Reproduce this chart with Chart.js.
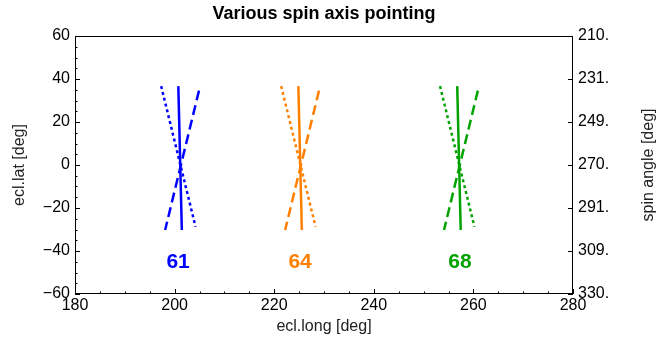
<!DOCTYPE html>
<html>
<head>
<meta charset="utf-8">
<script src="https://cdn.jsdelivr.net/npm/chart.js@4.4.1/dist/chart.umd.min.js"></script>
<style>
html,body{margin:0;padding:0;background:#fff}
#wrap{width:668px;height:345px;position:relative}
</style>
</head>
<body>
<div id="wrap"><canvas id="cv"></canvas></div>
<script>
// ═══ DATA ═══
var spinIds=['61','64','68'];
var colors=['#0000ff','#ff8000','#00a300'];
// latitude of the two ends of each line style
var solidLat=[36.7,-30.2];
var dottedLat=[36.7,-28.7];
var dashedLat=[34.6,-30.2];
// longitude of the two ends, one pair per spin id
var solidLong=[[200.75,201.45],[224.85,225.55],[256.75,257.45]];
var dottedLong=[[197.3,204.2],[221.4,228.3],[253.3,260.2]];
var dashedLong=[[204.9,198.1],[229.0,222.2],[260.9,254.1]];
// id label positions
var labelLong=[200.7,225.2,257.3];
var labelLat=-45;
// axes
var longTicks=[180,200,220,240,260,280];
var latTicks=[-60,-40,-20,0,20,40,60];
var spinTickLabels=['330.','309.','291.','270.','249.','231.','210.'];

var FONT='"Liberation Sans", Arial, sans-serif';
Chart.defaults.font.family=FONT;
Chart.defaults.color='#000';

function pts(lo,la){return lo.map(function(x,i){return{x:x,y:la[i]};});}
function minus(v){return v<0?'\u2212'+Math.abs(v):String(v);}

var datasets=[];
spinIds.forEach(function(id,g){
  datasets.push({label:id+' solid',data:pts(solidLong[g],solidLat),borderColor:colors[g],borderWidth:2.5,showLine:true,pointRadius:0,borderDash:[]});
  datasets.push({label:id+' dotted',data:pts(dottedLong[g],dottedLat),borderColor:colors[g],borderWidth:2.5,showLine:true,pointRadius:0,borderDash:[3,3]});
  datasets.push({label:id+' dashed',data:pts(dashedLong[g],dashedLat),borderColor:colors[g],borderWidth:2.5,showLine:true,pointRadius:0,borderDash:[10,5]});
});

// frame, inward ticks, titles and id labels
var decor={id:'decor',afterDraw:function(c){
  var ctx=c.ctx,a=c.chartArea,x=c.scales.x,y=c.scales.y;
  ctx.save();
  ctx.strokeStyle='#000';ctx.lineWidth=1;
  ctx.strokeRect(Math.round(a.left)+0.5,Math.round(a.top)+0.5,Math.round(a.right-a.left)-1,Math.round(a.bottom-a.top)-1);
  ctx.beginPath();
  for(var v=180;v<=280;v+=5){
    var px=Math.round(x.getPixelForValue(v))+0.5,len=(v%20===0)?5:2.5;
    ctx.moveTo(px,a.bottom);ctx.lineTo(px,a.bottom-len);
  }
  for(var w=-60;w<=60;w+=5){
    var py=Math.round(y.getPixelForValue(w))+0.5,ln=(w%20===0)?5:2.5;
    ctx.moveTo(a.left,py);ctx.lineTo(a.left+ln,py);
    if(w%20===0){ctx.moveTo(a.right,py);ctx.lineTo(a.right-5,py);}
  }
  ctx.stroke();
  ctx.fillStyle='#000';ctx.textAlign='center';ctx.textBaseline='middle';
  ctx.font='bold 18px '+FONT;
  ctx.fillText('Various spin axis pointing',(a.left+a.right)/2,14);
  // right axis title reads bottom to top
  ctx.save();
  ctx.fillStyle='#222';ctx.font='16px '+FONT;
  ctx.translate(649,(a.top+a.bottom)/2);ctx.rotate(-Math.PI/2);
  ctx.fillText('spin angle [deg]',0,0);
  ctx.restore();
  ctx.font='bold 21px '+FONT;
  spinIds.forEach(function(id,g){
    ctx.fillStyle=colors[g];
    ctx.fillText(id,x.getPixelForValue(labelLong[g]),y.getPixelForValue(labelLat));
  });
  ctx.restore();
}};

new Chart(document.getElementById('cv'),{
  type:'scatter',
  data:{datasets:datasets},
  plugins:[decor],
  options:{
    responsive:true,maintainAspectRatio:false,animation:false,
    layout:{padding:{top:36,left:0,right:0,bottom:0}},
    plugins:{legend:{display:false},tooltip:{enabled:false},title:{display:false}},
    scales:{
      x:{type:'linear',min:180,max:280,
        afterBuildTicks:function(s){s.ticks=longTicks.map(function(v){return{value:v};});},
        afterFit:function(s){s.height=51;},
        grid:{display:false,drawTicks:false},border:{display:false},
        ticks:{autoSkip:false,maxRotation:0,padding:2,font:{size:16},color:'#000'},
        title:{display:true,text:'ecl.long [deg]',font:{size:16},color:'#222',padding:{top:0,bottom:9}}},
      y:{type:'linear',position:'left',min:-60,max:60,
        afterBuildTicks:function(s){s.ticks=latTicks.map(function(v){return{value:v};});},
        afterFit:function(s){s.width=75;},
        grid:{display:false,drawTicks:false},border:{display:false},
        ticks:{autoSkip:false,padding:5,font:{size:16},color:'#000',callback:function(v){return minus(v);}},
        title:{display:true,text:'ecl.lat [deg]',font:{size:16},color:'#222',padding:{top:10,bottom:0}}},
      y2:{type:'linear',position:'right',min:-60,max:60,
        afterBuildTicks:function(s){s.ticks=latTicks.map(function(v){return{value:v};});},
        afterFit:function(s){s.width=95;},
        grid:{display:false,drawTicks:false},border:{display:false},
        ticks:{autoSkip:false,padding:5,font:{size:16},color:'#000',callback:function(v){var i=latTicks.indexOf(v);return i>=0?spinTickLabels[i]:'';}},
        title:{display:false}}
    }
  }
});
</script>
</body>
</html>
